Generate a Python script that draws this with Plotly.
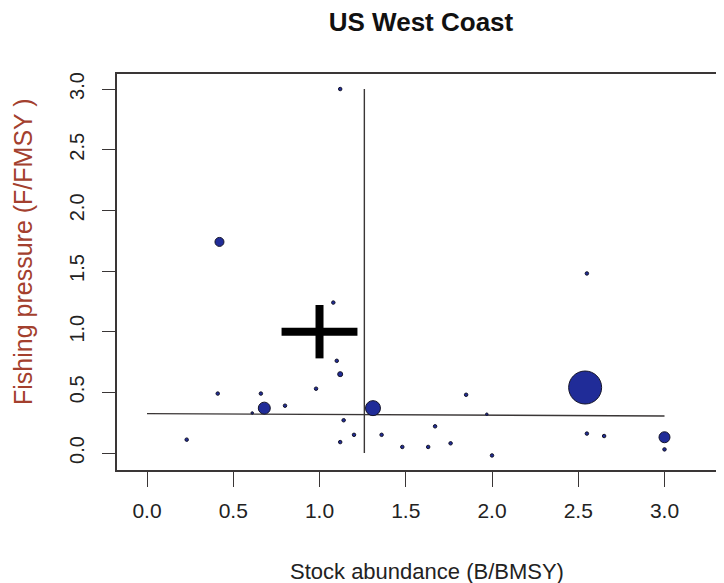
import plotly.graph_objects as go

# ---- data ----
stock_b = [1.12, 0.42, 1.08, 1.10, 1.12, 0.98, 0.41, 0.66, 0.80, 0.68,
           0.61, 1.31, 1.14, 1.20, 1.12, 1.36, 1.48, 0.23, 2.55, 2.54,
           1.85, 1.97, 1.67, 1.63, 1.76, 2.00, 2.55, 2.65, 3.00, 3.00]
fishing_f = [3.00, 1.74, 1.24, 0.76, 0.65, 0.53, 0.49, 0.49, 0.39, 0.37,
             0.33, 0.37, 0.27, 0.15, 0.09, 0.15, 0.05, 0.11, 1.48, 0.54,
             0.48, 0.32, 0.22, 0.05, 0.08, -0.02, 0.16, 0.14, 0.13, 0.03]
catch_rel = [3.5, 9, 3.5, 3.5, 5, 3.5, 3.5, 3.5, 3.5, 12,
             2.5, 15, 3.5, 3.5, 3.5, 3.5, 3.5, 3.5, 3.5, 33,
             3.5, 2.5, 3.5, 3.5, 3.5, 3.5, 3.5, 3.5, 11, 3.5]

# reference lines
median_b = 1.26
median_b_span = [0.0, 3.0]
median_f_x = [0.0, 3.0]
median_f_y = [0.325, 0.305]

# aggregate cross (centre and half-width)
cross_center = (1.0, 1.0)
cross_half = 0.22

x_ticks = [0.0, 0.5, 1.0, 1.5, 2.0, 2.5, 3.0]
y_ticks = [0.0, 0.5, 1.0, 1.5, 2.0, 2.5, 3.0]
tick_labels = ["0.0", "0.5", "1.0", "1.5", "2.0", "2.5", "3.0"]

# the page body has an 8px margin, so the figure is placed at (8, 8)
OFF = 8
W, H = 724 - OFF, 583 - OFF
L, R, T, B = 117 - OFF, 0, 74 - OFF, 113


def px_x(p):
    return (p - OFF - L) / (W - L - R)


def px_y(p):
    return (H - B - (p - OFF)) / (H - T - B)


FONT = "Liberation Sans, Arial, sans-serif"
LINE = "#3a3636"

fig = go.Figure()

# reference lines
fig.add_trace(go.Scatter(x=[median_b, median_b], y=median_b_span, mode="lines",
                         line=dict(color=LINE, width=1.4), hoverinfo="skip",
                         showlegend=False))
fig.add_trace(go.Scatter(x=median_f_x, y=median_f_y, mode="lines",
                         line=dict(color=LINE, width=1.4), hoverinfo="skip",
                         showlegend=False))

# stocks
fig.add_trace(go.Scatter(
    x=stock_b, y=fishing_f, mode="markers",
    marker=dict(size=catch_rel, color="#202c98", opacity=1,
                line=dict(color="#15152a", width=1)),
    showlegend=False))

# aggregate cross
cx, cy = cross_center
fig.add_trace(go.Scatter(x=[cx - cross_half, cx + cross_half], y=[cy, cy],
                         mode="lines", line=dict(color="black", width=8),
                         showlegend=False))
fig.add_trace(go.Scatter(x=[cx, cx], y=[cy - cross_half, cy + cross_half],
                         mode="lines", line=dict(color="black", width=8),
                         showlegend=False))

fig.update_layout(
    width=W, height=H,
    margin=dict(l=L, r=R, t=T, b=B, autoexpand=False),
    paper_bgcolor="white", plot_bgcolor="white",
    font=dict(family=FONT, color="#222222"),
    title=dict(text="<b>US West Coast</b>", x=(421 - OFF) / W, xref="container",
               xanchor="center", y=1 - (22 - OFF) / H, yref="container",
               yanchor="middle",
               font=dict(size=26, color="#111111", family=FONT)),
    xaxis=dict(range=[-0.174, 3.345], tickvals=x_ticks, ticktext=tick_labels,
               showgrid=False, zeroline=False, showline=True, mirror=True,
               linecolor=LINE, linewidth=1.6, ticks="outside", ticklen=15,
               tickwidth=1.4, tickcolor=LINE, ticklabelstandoff=6,
               tickfont=dict(size=21, color="#222222")),
    yaxis=dict(range=[-0.140, 3.124], tickvals=y_ticks, ticktext=tick_labels,
               showgrid=False, zeroline=False, showline=True, mirror=False,
               linecolor=LINE, linewidth=1.6, ticks="outside", ticklen=13,
               tickwidth=1.4, tickcolor=LINE, tickangle=-90, ticklabelstandoff=10,
               tickfont=dict(size=20, color="#222222")),
    annotations=[
        dict(text="Stock abundance (B/BMSY)", xref="paper", yref="paper",
             x=px_x(427), y=px_y(571),
             xanchor="center", yanchor="middle", showarrow=False,
             font=dict(size=22, color="#222222", family=FONT)),
        dict(text="Fishing pressure (F/FMSY )", xref="paper", yref="paper",
             x=px_x(23), y=px_y(252),
             xanchor="center", yanchor="middle", textangle=-90, showarrow=False,
             font=dict(size=25, color="#a3402e", family=FONT)),
    ],
)

fig.write_html("out.html")
